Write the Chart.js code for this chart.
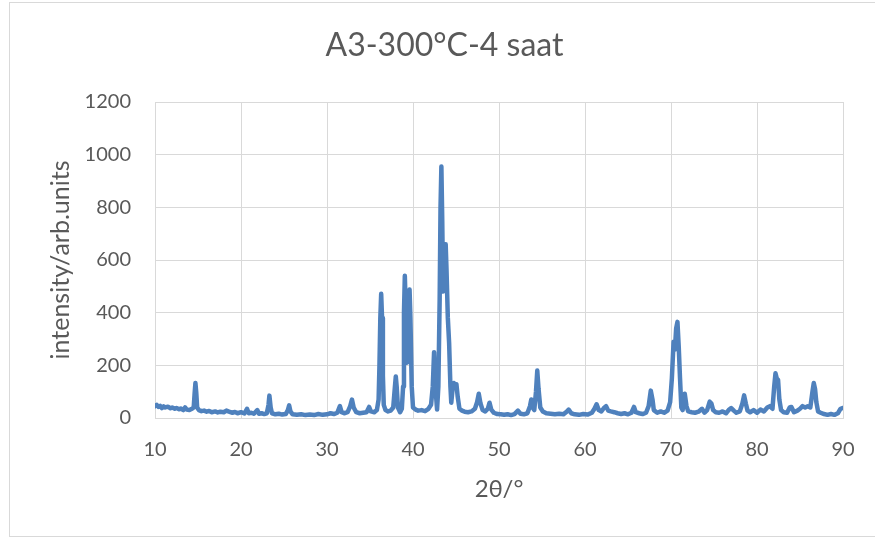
<!DOCTYPE html>
<html>
<head>
<meta charset="utf-8">
<script src="https://cdn.jsdelivr.net/npm/chart.js@4.4.1/dist/chart.umd.min.js"></script>
<style>
  body { margin: 0; background: #fff; }
  #wrap { position: absolute; left: 0; top: 0; width: 875px; height: 538px; }
</style>
</head>
<body>
<div id="wrap"><canvas id="xrd"></canvas></div>
<script>
// 2theta positions (deg) and intensities
const twoTheta = [
  10.0, 10.2, 10.4, 10.6, 10.8, 11.0, 11.2, 11.5, 11.8, 12.0, 12.3, 12.5, 12.8, 13.0, 13.3, 13.5, 13.7, 14.0, 14.3, 14.5,
  14.6, 14.7, 14.8, 14.9, 15.1, 15.4, 15.7, 16.0, 16.3, 16.6, 17.0, 17.3, 17.6, 18.0, 18.3, 18.6, 19.0, 19.3, 19.6, 20.0,
  20.4, 20.7, 20.9, 21.2, 21.5, 21.9, 22.1, 22.4, 22.7, 23.0, 23.2, 23.3, 23.45, 23.6, 24.0, 24.4, 24.8, 25.2, 25.45, 25.6,
  25.75, 26.0, 26.5, 27.0, 27.5, 28.0, 28.5, 29.0, 29.5, 30.0, 30.4, 30.8, 31.2, 31.5, 31.7, 32.0, 32.4, 32.7, 32.9, 33.1,
  33.4, 33.8, 34.2, 34.6, 34.9, 35.1, 35.5, 35.8, 36.0, 36.1, 36.2, 36.3, 36.4, 36.5, 36.6, 36.8, 37.1, 37.4, 37.7, 37.9,
  38.0, 38.1, 38.25, 38.5, 38.7, 38.85, 38.95, 39.05, 39.15, 39.3, 39.45, 39.6, 39.7, 39.85, 40.0, 40.3, 40.6, 41.0, 41.4, 41.8,
  42.1, 42.3, 42.45, 42.6, 42.8, 42.95, 43.1, 43.2, 43.3, 43.4, 43.5, 43.65, 43.8, 43.9, 44.05, 44.2, 44.35, 44.45, 44.6, 44.75,
  44.9, 45.05, 45.2, 45.4, 45.7, 46.0, 46.4, 46.8, 47.2, 47.45, 47.65, 47.85, 48.1, 48.4, 48.7, 48.9, 49.1, 49.4, 49.8, 50.2,
  50.6, 51.0, 51.4, 51.8, 52.2, 52.5, 52.9, 53.3, 53.6, 53.75, 53.9, 54.1, 54.3, 54.45, 54.6, 54.8, 55.1, 55.5, 56.0, 56.5,
  57.0, 57.5, 57.9, 58.1, 58.4, 58.8, 59.3, 59.8, 60.3, 60.8, 61.1, 61.35, 61.6, 61.9, 62.2, 62.45, 62.7, 63.0, 63.4, 63.8,
  64.2, 64.6, 65.0, 65.4, 65.7, 65.9, 66.3, 66.7, 67.1, 67.4, 67.65, 67.85, 68.0, 68.4, 68.8, 69.2, 69.6, 69.9, 70.1, 70.3,
  70.45, 70.6, 70.75, 70.9, 71.05, 71.2, 71.35, 71.6, 71.8, 72.0, 72.4, 72.8, 73.2, 73.6, 73.9, 74.2, 74.5, 74.7, 74.9, 75.2,
  75.6, 76.0, 76.4, 76.7, 77.0, 77.3, 77.6, 78.0, 78.3, 78.5, 78.7, 78.9, 79.2, 79.6, 80.0, 80.4, 80.8, 81.2, 81.5, 81.8,
  82.0, 82.15, 82.3, 82.45, 82.6, 82.8, 83.1, 83.5, 83.8, 84.0, 84.3, 84.7, 85.0, 85.3, 85.6, 85.9, 86.2, 86.45, 86.6, 86.75,
  86.9, 87.1, 87.4, 87.8, 88.2, 88.6, 89.0, 89.4, 89.7, 90.0
];
const intensity = [
  45, 50, 42, 46, 38, 44, 40, 43, 37, 40, 35, 38, 33, 36, 30, 40, 32, 30, 35, 40,
  90, 133, 95, 40, 30, 26, 28, 24, 27, 22, 25, 21, 24, 22, 28, 24, 20, 23, 18, 22,
  17, 35, 18, 20, 16, 30, 16, 18, 15, 18, 50, 85, 40, 18, 14, 16, 13, 15, 30, 48,
  25, 14, 12, 14, 11, 13, 11, 15, 12, 14, 18, 15, 20, 45, 22, 18, 22, 45, 70, 40,
  22, 18, 20, 22, 42, 25, 22, 30, 70, 200, 380, 472, 380, 160, 50, 30, 25, 28, 40, 120,
  158, 120, 40, 22, 35, 120, 400, 540, 420, 210, 350, 488, 380, 120, 40, 32, 28, 30, 26, 35,
  50, 120, 250, 120, 32, 120, 450, 800, 955, 750, 480, 600, 660, 560, 380, 285, 120, 58, 110, 133,
  120, 128, 80, 35, 28, 24, 22, 25, 35, 60, 92, 55, 30, 25, 35, 58, 32, 20, 15, 14,
  12, 14, 11, 15, 28, 16, 14, 18, 45, 70, 40, 30, 100, 180, 110, 40, 25, 18, 16, 14,
  16, 14, 25, 32, 18, 14, 12, 15, 13, 20, 35, 52, 30, 25, 38, 45, 28, 25, 22, 18,
  15, 18, 14, 20, 42, 22, 18, 15, 20, 45, 104, 70, 30, 20, 25, 20, 28, 60, 150, 290,
  260, 340, 365, 270, 150, 40, 30, 92, 45, 25, 22, 20, 24, 35, 20, 30, 62, 55, 30, 22,
  20, 25, 18, 30, 38, 28, 20, 25, 55, 86, 55, 28, 22, 30, 20, 32, 25, 40, 45, 35,
  120, 170, 150, 145, 70, 30, 22, 20, 40, 42, 22, 28, 35, 45, 40, 45, 40, 100, 133, 110,
  60, 25, 20, 15, 12, 15, 12, 18, 35, 38
];
const xTicks = [10, 20, 30, 40, 50, 60, 70, 80, 90];
const yTicks = [0, 200, 400, 600, 800, 1000, 1200];

const points = twoTheta.map((t, i) => ({ x: t, y: intensity[i] }));
const txt = '#595959';
const grid = '#d9d9d9';

// white background + outer chart frame
const frame = {
  id: 'frame',
  beforeDraw(chart) {
    const c = chart.ctx;
    c.save();
    c.fillStyle = '#fff';
    c.fillRect(0, 0, chart.width, chart.height);
    c.strokeStyle = grid;
    c.lineWidth = 1;
    c.strokeRect(9.5, 2.5, 875, 534);
    c.restore();
  }
};

new Chart('xrd', {
  type: 'scatter',
  data: {
    datasets: [{
      data: points,
      showLine: true,
      borderColor: '#4f81bd',
      backgroundColor: '#4f81bd',
      borderWidth: 4.5,
      borderJoinStyle: 'round',
      borderCapStyle: 'round',
      pointRadius: 0,
      tension: 0
    }]
  },
  options: {
    responsive: true,
    maintainAspectRatio: false,
    animation: false,
    layout: { padding: { left: 46, right: 32, top: 26, bottom: 34 } },
    plugins: {
      legend: { display: false },
      tooltip: { enabled: false },
      title: {
        display: true,
        text: 'A3-300°C-4 saat',
        color: txt,
        font: { family: 'Lato', size: 32, weight: 'normal' },
        padding: { top: 0, bottom: 37.6 }
      }
    },
    scales: {
      x: {
        type: 'linear',
        min: 10,
        max: 90,
        afterBuildTicks: (s) => { s.ticks = xTicks.map(v => ({ value: v })); },
        afterFit: (s) => { s.height = 86; },
        grid: { color: grid, drawTicks: false },
        border: { color: grid },
        ticks: { color: txt, padding: 20, font: { family: 'Lato', size: 20 }, callback: (v) => String(v) },
        title: {
          display: true,
          text: '2θ/°',
          color: txt,
          padding: 0,
          font: { family: 'Lato', size: 24 }
        }
      },
      y: {
        min: 0,
        max: 1200,
        afterBuildTicks: (s) => { s.ticks = yTicks.map(v => ({ value: v })); },
        afterFit: (s) => { s.width = 109; },
        grid: { color: grid, drawTicks: false },
        border: { color: grid },
        ticks: { color: txt, padding: 24, font: { family: 'Lato', size: 20 }, callback: (v) => String(v) },
        title: {
          display: true,
          text: 'intensity/arb.units',
          color: txt,
          padding: 0,
          font: { family: 'Lato', size: 25 }
        }
      }
    }
  },
  plugins: [frame]
});
</script>
</body>
</html>
